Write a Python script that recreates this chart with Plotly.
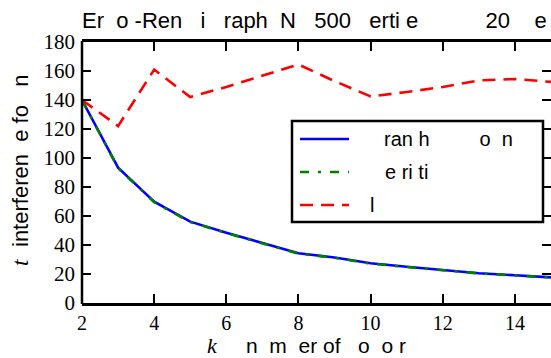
import plotly.graph_objects as go

# ---------------- data ----------------
k_values = [2, 3, 4, 5, 6, 7, 8, 9, 10, 11, 12, 13, 14, 15]
branch_bound = [140, 93.3, 69.9, 56.1, 48.5, 41.6, 34.3, 31.4, 27.4, 25.0, 22.8, 20.5, 19.1, 17.7]
heuristic = [140, 93.0, 69.6, 55.8, 48.3, 41.4, 34.0, 31.2, 27.2, 24.8, 22.6, 20.4, 19.0, 17.6]
lower_series = [140, 122, 161, 142, 149, 157, 164.5, 153, 142.5, 145.5, 149, 153.5, 154.5, 152.5]

x_ticks = [2, 4, 6, 8, 10, 12, 14]
y_ticks = [0, 20, 40, 60, 80, 100, 120, 140, 160, 180]

title_text = "Er\u00a0\u00a0o\u00a0-Ren\u00a0\u00a0\u00a0i\u00a0\u00a0\u00a0raph\u00a0\u00a0N\u00a0\u00a0\u00a0500\u00a0\u00a0\u00a0erti\u00a0e\u00a0\u00a0\u00a0\u00a0\u00a0\u00a0\u00a0\u00a0\u00a0\u00a0\u00a020\u00a0\u00a0\u00a0\u00a0e"
legend_names = ["ran\u00a0h\u00a0\u00a0\u00a0\u00a0\u00a0\u00a0\u00a0\u00a0\u00a0o\u00a0\u00a0n", "e\u00a0ri\u00a0ti", "l"]
xlabel_text = "n\u00a0\u00a0m\u00a0\u00a0er\u00a0of\u00a0\u00a0\u00a0o\u00a0\u00a0o\u00a0r"
ylabel_text = "interferen\u00a0\u00a0e\u00a0fo\u00a0\u00a0\u00a0n"

# ---------------- layout geometry ----------------
W, H = 551, 358
L, R, T, B = 82, 0, 42, 55
PW, PH = W - L - R, H - T - B


def px(xp):
    return (xp - L) / PW


def py(yp):
    return (H - B - yp) / PH


SANS = "Liberation Sans, Arial, sans-serif"
SERIF = "Liberation Serif, Times New Roman, serif"

fig = go.Figure()
fig.add_trace(go.Scatter(x=k_values, y=branch_bound, mode="lines", name=legend_names[0],
                         line=dict(color="#0000ff", width=2.6)))
fig.add_trace(go.Scatter(x=k_values, y=heuristic, mode="lines", name=legend_names[1],
                         line=dict(color="#008000", width=2.6, dash="9px,9px,3px,9px")))
fig.add_trace(go.Scatter(x=k_values, y=lower_series, mode="lines", name=legend_names[2],
                         line=dict(color="#ff0000", width=2.6, dash="13px,8px")))

shapes = []
annotations = []

# left spine
shapes.append(dict(type="line", xref="paper", yref="paper", x0=0, x1=0, y0=-0.004, y1=1.004,
                   line=dict(color="black", width=2.5)))

# manual legend box
shapes.append(dict(type="rect", xref="paper", yref="paper",
                   x0=px(292), x1=px(543), y0=py(222), y1=py(121),
                   fillcolor="white", line=dict(color="black", width=2.5), layer="above"))
legend_rows = [139, 172, 205]
legend_colors = ["#0000ff", "#008000", "#ff0000"]
legend_dash = ["solid", "9px,9px,3px,9px", "13px,8px"]
legend_text_x = [382, 383, 368]
for i in range(3):
    shapes.append(dict(type="line", xref="paper", yref="paper",
                       x0=px(300), x1=px(349), y0=py(legend_rows[i]), y1=py(legend_rows[i]),
                       line=dict(color=legend_colors[i], width=2.6, dash=legend_dash[i]), layer="above"))
    annotations.append(dict(text=legend_names[i], xref="paper", yref="paper",
                            x=px(legend_text_x[i]), y=py(legend_rows[i]), xanchor="left", yanchor="middle",
                            showarrow=False, font=dict(family=SANS, size=20, color="black")))

# title
annotations.append(dict(text=title_text, xref="paper", yref="paper", x=px(80), y=py(21),
                        xanchor="left", yanchor="middle", showarrow=False,
                        font=dict(family=SANS, size=22, color="black")))
# x label
annotations.append(dict(text="<i>k</i>", xref="paper", yref="paper", x=px(212), y=py(345),
                        xanchor="center", yanchor="middle", showarrow=False,
                        font=dict(family=SERIF, size=22, color="black")))
annotations.append(dict(text=xlabel_text, xref="paper", yref="paper", x=px(244), y=py(345),
                        xanchor="left", yanchor="middle", showarrow=False,
                        font=dict(family=SANS, size=21, color="black")))
# y label
annotations.append(dict(text="<i>t</i>", xref="paper", yref="paper", x=px(20), y=py(263),
                        xanchor="center", yanchor="middle", showarrow=False, textangle=-90,
                        font=dict(family=SERIF, size=23, color="black")))
annotations.append(dict(text=ylabel_text, xref="paper", yref="paper", x=px(20), y=py(249),
                        xanchor="center", yanchor="bottom", showarrow=False, textangle=-90,
                        font=dict(family=SANS, size=22, color="black")))

fig.update_layout(
    width=W, height=H,
    margin=dict(l=L, r=R, t=T, b=B, pad=0),
    paper_bgcolor="white", plot_bgcolor="white",
    showlegend=False,
    shapes=shapes, annotations=annotations,
    xaxis=dict(range=[2, 15], tickvals=x_ticks, ticks="inside", ticklen=9, tickwidth=1.5,
               tickcolor="black", showline=True, linewidth=2.5, linecolor="black", mirror="ticks",
               showgrid=False, zeroline=False, tickfont=dict(family=SERIF, size=20, color="black")),
    yaxis=dict(range=[0, 180], tickvals=y_ticks, ticks="inside", ticklen=9, tickwidth=1.5,
               tickcolor="black", showline=False, mirror="ticks", ticklabelstandoff=6,
               showgrid=False, zeroline=False, tickfont=dict(family=SERIF, size=21, color="black")),
)

fig.write_html("out.html", config={"displayModeBar": False},
               post_script="document.body.style.margin='0';document.body.style.overflow='hidden';")
